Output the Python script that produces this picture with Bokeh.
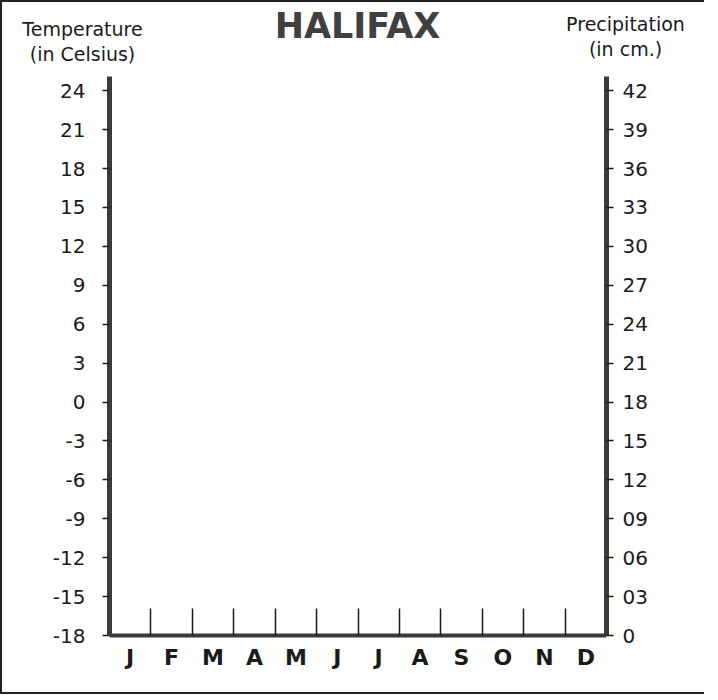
from bokeh.plotting import figure
from bokeh.layouts import column
from bokeh.models import LinearAxis, Range1d, FixedTicker
from bokeh.core.properties import value
from bokeh.embed import file_html
from bokeh.resources import INLINE

# ---- data ----
title_text = "HALIFAX"
months = ["J", "F", "M", "A", "M", "J", "J", "A", "S", "O", "N", "D"]
temp_ticks = [-18, -15, -12, -9, -6, -3, 0, 3, 6, 9, 12, 15, 18, 21, 24]
temp_labels = ["-18", "-15", "-12", "-9", "-6", "-3", "0", "3", "6", "9",
               "12", "15", "18", "21", "24"]
precip_ticks = [0, 3, 6, 9, 12, 15, 18, 21, 24, 27, 30, 33, 36, 39, 42]
precip_labels = ["0", "03", "06", "09", "12", "15", "18", "21", "24",
                 "27", "30", "33", "36", "39", "42"]
left_label = ["Temperature", "(in Celsius)"]
right_label = ["Precipitation", "(in cm.)"]

FONT = "DejaVu Sans"
AXIS_COLOR = "#3a3a3a"
TEXT_COLOR = "#1a1a1a"
W = 702
HEAD_H = 74
MAIN_H = 616

# ---------- header (title and axis captions) ----------
head = figure(width=W, height=HEAD_H, output_backend="svg", toolbar_location=None,
              x_range=Range1d(0, W), y_range=Range1d(0, HEAD_H),
              x_axis_location=None, y_axis_location=None,
              min_border=0, min_border_left=0, min_border_right=0,
              min_border_top=0, min_border_bottom=0)
head.frame_align = False
head.outline_line_color = None
head.xgrid.visible = False
head.ygrid.visible = False

head.text(x=[355], y=[HEAD_H - 23], text=[title_text], text_align="center",
          text_baseline="middle", text_font=value(FONT), text_font_size="35px",
          text_font_style="bold", text_color="#404040")
head.text(x=[80, 80], y=[HEAD_H - 26, HEAD_H - 51], text=left_label,
          text_align="center", text_baseline="middle", text_font=value(FONT),
          text_font_size="19px", text_color=TEXT_COLOR)
head.text(x=[623, 623], y=[HEAD_H - 21, HEAD_H - 46], text=right_label,
          text_align="center", text_baseline="middle", text_font=value(FONT),
          text_font_size="19px", text_color=TEXT_COLOR)

# ---------- main chart ----------
T_MIN, T_TOP = -18, 25.1
p = figure(width=W, height=MAIN_H, output_backend="svg", toolbar_location=None,
           x_range=Range1d(0, 12), y_range=Range1d(T_MIN, T_TOP),
           x_axis_location=None, y_axis_location=None,
           min_border_left=107, min_border_right=98,
           min_border_top=0, min_border_bottom=57)
p.frame_align = False
p.outline_line_color = None
p.xgrid.visible = False
p.ygrid.visible = False

# precipitation range aligned so 0 cm sits at -18 C
p.extra_y_ranges = {"precip": Range1d(T_MIN - temp_ticks[0] + precip_ticks[0],
                                      T_TOP - temp_ticks[0] + precip_ticks[0])}

def style_y(ax):
    ax.axis_line_width = 5
    ax.axis_line_color = AXIS_COLOR
    ax.major_tick_out = 7
    ax.major_tick_in = 0
    ax.major_tick_line_width = 1.5
    ax.major_tick_line_color = TEXT_COLOR
    ax.minor_tick_line_color = None
    ax.major_label_text_font = FONT
    ax.major_label_text_font_size = "20px"
    ax.major_label_text_color = TEXT_COLOR

left = LinearAxis(ticker=FixedTicker(ticks=temp_ticks),
                  major_label_overrides={t: l for t, l in zip(temp_ticks, temp_labels)})
style_y(left)
left.major_label_standoff = 17
p.add_layout(left, "left")

right = LinearAxis(y_range_name="precip", ticker=FixedTicker(ticks=precip_ticks),
                   major_label_overrides={t: l for t, l in zip(precip_ticks, precip_labels)})
style_y(right)
right.major_label_standoff = 9
p.add_layout(right, "right")

centers = [i + 0.5 for i in range(len(months))]
bounds = list(range(1, len(months)))
bottom = LinearAxis(ticker=FixedTicker(ticks=centers, minor_ticks=bounds),
                    major_label_overrides={c: m for c, m in zip(centers, months)})
bottom.axis_line_width = 4
bottom.axis_line_color = AXIS_COLOR
bottom.major_tick_in = 0
bottom.major_tick_out = 0
bottom.minor_tick_in = 27
bottom.minor_tick_out = 0
bottom.minor_tick_line_width = 1.5
bottom.minor_tick_line_color = TEXT_COLOR
bottom.major_label_text_font = FONT
bottom.major_label_text_font_size = "22px"
bottom.major_label_text_font_style = "bold"
bottom.major_label_text_color = TEXT_COLOR
bottom.major_label_standoff = 9
p.add_layout(bottom, "below")

layout = column(head, p, spacing=0)
layout.styles = {"border-top": "2px solid #222", "border-left": "2px solid #222",
                 "border-bottom": "2px solid #222"}

open("out.html", "w").write(file_html(layout, INLINE))
